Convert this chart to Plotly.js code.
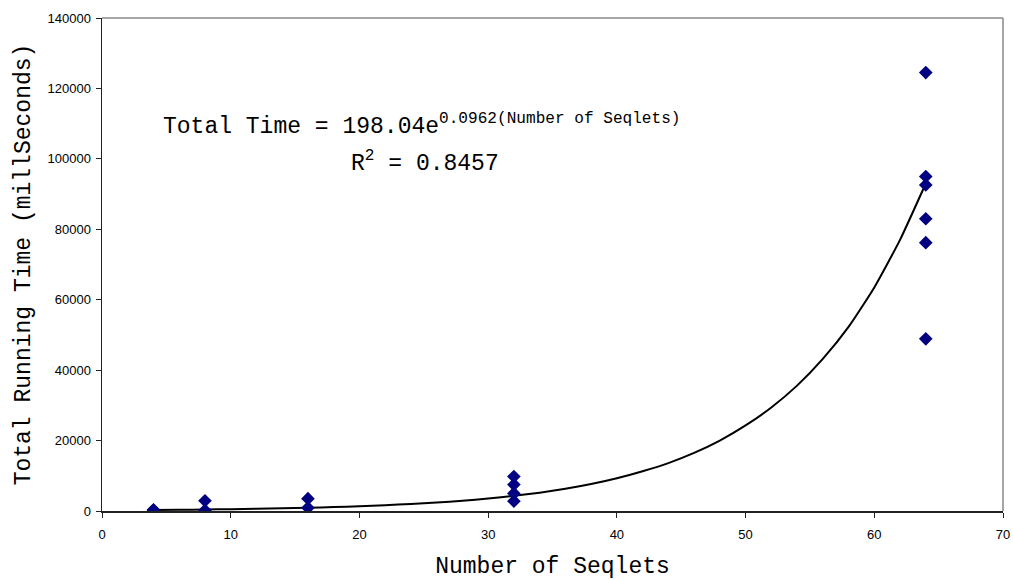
<!DOCTYPE html>
<html>
<head>
<meta charset="utf-8">
<script src="https://cdn.plot.ly/plotly-3.0.1.min.js"></script>
<style>html,body{margin:0;padding:0;background:#fff;}#chart{width:1013px;height:580px;}</style>
</head>
<body>
<div id="chart"></div>
<script>
// Measured runs: number of seqlets vs total running time (ms)
const seqlets = [4, 4, 8, 8, 16, 16, 32, 32, 32, 32, 64, 64, 64, 64, 64, 64];
const runTimes = [200, 350, 200, 2900, 900, 3500, 2800, 5000, 7500, 9800, 48900, 76200, 83000, 92600, 95000, 124500];

// Exponential trendline, values
const trendX = [4, 6, 8, 10, 12, 14, 16, 18, 20, 22, 24, 26, 28, 30, 32, 34, 36, 38, 40, 42, 44, 46, 48, 50, 52, 54, 56, 58, 60, 62, 64];
const trendY = [290, 350, 430, 520, 630, 760, 920, 1120, 1350, 1640, 2000, 2400, 2900, 3550, 4300, 5200, 6300, 7650, 9300, 11300, 13600, 16500, 20000, 24300, 29400, 35600, 43200, 52300, 63500, 77000, 93000];

const xTicks = [0, 10, 20, 30, 40, 50, 60, 70];
const yTicks = [0, 20000, 40000, 60000, 80000, 100000, 120000, 140000];

const mono = "Liberation Mono";
const sans = "Liberation Sans";

const data = [
  {
    x: trendX, y: trendY, type: 'scatter', mode: 'lines',
    line: {color: '#000000', width: 2, shape: 'spline', smoothing: 0.5},
    hoverinfo: 'skip', showlegend: false
  },
  {
    x: seqlets, y: runTimes, type: 'scatter', mode: 'markers',
    marker: {symbol: 'diamond', size: 10.5, color: '#000080', line: {width: 0}},
    showlegend: false
  }
];

const layout = {
  width: 1013, height: 580,
  margin: {l: 102, r: 10, t: 18, b: 69, pad: 0},
  paper_bgcolor: '#ffffff', plot_bgcolor: '#ffffff',
  showlegend: false,
  xaxis: {
    range: [0, 70], tickvals: xTicks, ticktext: xTicks.map(String),
    showgrid: false, zeroline: false, showline: true, linecolor: '#222', linewidth: 1.5,
    ticks: 'outside', ticklen: 5, tickwidth: 1, tickcolor: '#222',
    tickfont: {family: sans, size: 13, color: '#000'},
    ticklabelstandoff: 6,
    title: {text: 'Number of Seqlets', font: {family: mono, size: 23, color: '#000'}, standoff: 16}
  },
  yaxis: {
    range: [0, 140000], tickvals: yTicks, ticktext: yTicks.map(String),
    showgrid: false, zeroline: false, showline: true, linecolor: '#222', linewidth: 1.5,
    ticks: 'outside', ticklen: 5, tickwidth: 1, tickcolor: '#222',
    tickfont: {family: sans, size: 13, color: '#000'},
    ticklabelstandoff: 2,
    title: {text: 'Total Running Time (millSeconds)', font: {family: mono, size: 23, color: '#000'}, standoff: 10}
  },
  shapes: [
    {type: 'line', xref: 'paper', yref: 'paper', x0: 0, x1: 1, y0: 1, y1: 1, line: {color: '#888', width: 1.5}},
    {type: 'line', xref: 'paper', yref: 'paper', x0: 1, x1: 1, y0: 0, y1: 1, line: {color: '#888', width: 1.5}}
  ],
  annotations: [
    {
      xref: 'x', yref: 'y', x: 4.6, y: 109500, xanchor: 'left', yanchor: 'middle',
      text: 'Total Time = 198.04e<sup>0.0962(Number of Seqlets)</sup>', showarrow: false,
      font: {family: mono, size: 23, color: '#000'}
    },
    {
      xref: 'x', yref: 'y', x: 19.2, y: 99200, xanchor: 'left', yanchor: 'middle',
      text: 'R<sup>2</sup> = 0.8457', showarrow: false,
      font: {family: mono, size: 23, color: '#000'}
    }
  ]
};

Plotly.newPlot('chart', data, layout, {displayModeBar: false, staticPlot: true});
</script>
</body>
</html>
